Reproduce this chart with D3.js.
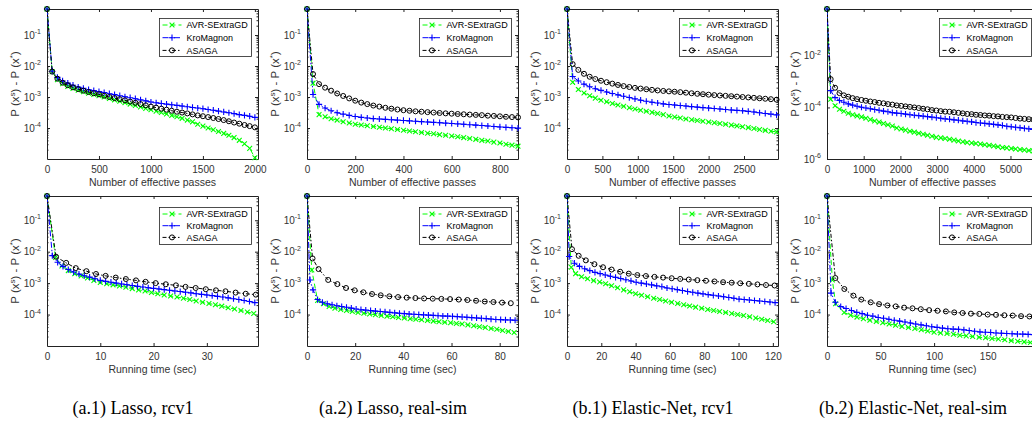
<!DOCTYPE html>
<html lang="en">
<head>
<meta charset="UTF-8">
<title>AVR-SExtraGD vs KroMagnon vs ASAGA</title>
<script src="https://cdn.jsdelivr.net/npm/d3@7"></script>
<style>
  body { margin: 0; background: #fff; }
  svg { display: block; font-family: "Liberation Sans", Arial, Helvetica, sans-serif; }
</style>
</head>
<body>
<svg id="chart" width="1032" height="423"></svg>
<script>
// legend names, captions and axis titles
const methods = ["AVR-SExtraGD", "KroMagnon", "ASAGA"];
const captions = ["(a.1) Lasso, rcv1", "(a.2) Lasso, real-sim", "(b.1) Elastic-Net, rcv1", "(b.2) Elastic-Net, real-sim"];
const xTitles = ["Number of effective passes", "Running time (sec)"];

// x tick labels
const ticksA1p = [0, 500, 1000, 1500, 2000];
const ticksA2p = [0, 200, 400, 600, 800];
const ticksB1p = [0, 500, 1000, 1500, 2000, 2500];
const ticksB2p = [0, 1000, 2000, 3000, 4000, 5000];
const ticksA1t = [0, 10, 20, 30];
const ticksA2t = [0, 20, 40, 60, 80];
const ticksB1t = [0, 20, 40, 60, 80, 100, 120];
const ticksB2t = [0, 50, 100, 150];
// y tick labels (decades)
const yTicksStd = [1e-4, 1e-3, 1e-2, 1e-1];
const yTicksWide = [1e-6, 1e-4, 1e-2];

// ---- (a.1) Lasso, rcv1 : effective passes ----
const passA1 = [0, 50, 100, 150, 200, 250, 300, 350, 400, 450, 500, 550, 600, 650, 700, 750, 800, 850, 900, 950, 1000,
  1050, 1100, 1150, 1200, 1250, 1300, 1350, 1400, 1450, 1500, 1550, 1600, 1650, 1700, 1750, 1800, 1850, 1900, 1950, 2000];
const avrA1p = [0.69, 6.5e-3, 3.6e-3, 2.7e-3, 2.2e-3, 1.9e-3, 1.65e-3, 1.47e-3, 1.32e-3, 1.2e-3, 1.1e-3,
  1.0e-3, 9.0e-4, 8.1e-4, 7.3e-4, 6.6e-4, 5.9e-4, 5.3e-4, 4.8e-4, 4.3e-4, 3.9e-4,
  3.5e-4, 3.15e-4, 2.85e-4, 2.55e-4, 2.3e-4, 2.05e-4, 1.8e-4, 1.58e-4, 1.32e-4, 1.15e-4,
  1.0e-4, 8.8e-5, 7.7e-5, 6.7e-5, 5.8e-5, 4.9e-5, 4.0e-5, 3.1e-5, 2.2e-5, 1.1e-5];
const kroA1p = [0.69, 6.8e-3, 4.3e-3, 3.3e-3, 2.8e-3, 2.4e-3, 2.1e-3, 1.9e-3, 1.72e-3, 1.6e-3, 1.5e-3,
  1.39e-3, 1.28e-3, 1.19e-3, 1.1e-3, 1.02e-3, 9.5e-4, 8.8e-4, 8.1e-4, 7.5e-4, 6.9e-4,
  6.5e-4, 6.2e-4, 5.9e-4, 5.6e-4, 5.35e-4, 5.1e-4, 4.85e-4, 4.6e-4, 4.4e-4, 4.2e-4,
  3.95e-4, 3.75e-4, 3.5e-4, 3.3e-4, 3.1e-4, 2.9e-4, 2.7e-4, 2.55e-4, 2.4e-4, 2.2e-4];
const asagaA1p = [0.69, 6.6e-3, 3.9e-3, 2.9e-3, 2.4e-3, 2.05e-3, 1.8e-3, 1.6e-3, 1.45e-3, 1.32e-3, 1.22e-3,
  1.1e-3, 1.0e-3, 9.2e-4, 8.5e-4, 7.8e-4, 7.1e-4, 6.5e-4, 5.9e-4, 5.4e-4, 4.9e-4,
  4.55e-4, 4.2e-4, 3.9e-4, 3.6e-4, 3.35e-4, 3.15e-4, 2.95e-4, 2.75e-4, 2.55e-4, 2.4e-4,
  2.25e-4, 2.1e-4, 1.95e-4, 1.8e-4, 1.65e-4, 1.5e-4, 1.38e-4, 1.25e-4, 1.15e-4, 1.05e-4];

// ---- (a.1) Lasso, rcv1 : running time ----
const avrA1tX = [0, 1.6, 2.8, 4.0, 5.2, 6.4, 7.6, 8.8, 10.0, 11.2, 12.4, 13.6, 14.8, 16.0, 17.2, 18.4, 19.6,
  20.8, 22.0, 23.2, 24.4, 25.6, 26.8, 28.0, 29.2, 30.4, 31.6, 32.8, 34.0, 35.2, 36.4, 37.6, 38.8];
const avrA1t = [0.59, 6.5e-3, 3.5e-3, 2.5e-3, 2.0e-3, 1.7e-3, 1.45e-3, 1.22e-3, 1.05e-3, 9.6e-4, 8.8e-4, 8.1e-4,
  7.4e-4, 6.7e-4, 6.1e-4, 5.6e-4, 5.0e-4, 4.6e-4, 4.2e-4, 3.9e-4, 3.6e-4, 3.3e-4, 3.0e-4, 2.7e-4, 2.45e-4,
  2.25e-4, 2.05e-4, 1.85e-4, 1.65e-4, 1.5e-4, 1.35e-4, 1.2e-4, 1.08e-4];
const kroA1tX = [0, 1, 2, 3, 4, 5, 6, 7, 8, 9, 10, 11, 12, 13, 14, 15, 16, 17, 18, 19, 20,
  21, 22, 23, 24, 25, 26, 27, 28, 29, 30, 31, 32, 33, 34, 35, 36, 37, 38, 39];
const kroA1t = [0.59, 7.5e-3, 4.6e-3, 3.4e-3, 2.7e-3, 2.25e-3, 1.95e-3, 1.72e-3, 1.55e-3, 1.38e-3, 1.22e-3,
  1.14e-3, 1.07e-3, 1.0e-3, 9.4e-4, 8.9e-4, 8.4e-4, 7.9e-4, 7.5e-4, 7.1e-4, 6.8e-4,
  6.5e-4, 6.2e-4, 5.9e-4, 5.6e-4, 5.4e-4, 5.1e-4, 4.9e-4, 4.6e-4, 4.4e-4, 4.2e-4,
  4.0e-4, 3.8e-4, 3.6e-4, 3.4e-4, 3.2e-4, 3.0e-4, 2.8e-4, 2.6e-4, 2.4e-4];
const asagaA1tX = [0, 1.7, 3.6, 5.4, 7.4, 9.2, 11.0, 12.9, 14.8, 16.7, 18.5, 20.4, 22.3, 24.2, 26.0,
  27.9, 29.8, 31.7, 33.5, 35.4, 37.3, 39.2];
const asagaA1t = [0.59, 6.9e-3, 4.4e-3, 3.0e-3, 2.4e-3, 1.95e-3, 1.7e-3, 1.5e-3, 1.35e-3, 1.22e-3, 1.1e-3,
  1.0e-3, 9.2e-4, 8.5e-4, 7.6e-4, 7.0e-4, 6.4e-4, 5.9e-4, 5.5e-4, 5.0e-4, 4.6e-4, 4.3e-4];

// ---- (a.2) Lasso, real-sim : effective passes ----
const passA2 = [0, 25, 50, 75, 100, 125, 150, 175, 200, 225, 250, 275, 300, 325, 350, 375, 400, 425, 450, 475,
  500, 525, 550, 575, 600, 625, 650, 675, 700, 725, 750, 775, 800, 825, 850, 875];
const avrA2p = [0.69, 2.8e-3, 2.7e-4, 2.3e-4, 2.0e-4, 1.8e-4, 1.6e-4, 1.45e-4, 1.32e-4, 1.25e-4,
  1.18e-4, 1.12e-4, 1.06e-4, 1.0e-4, 9.5e-5, 9.0e-5, 8.5e-5, 8.0e-5, 7.6e-5, 7.2e-5,
  6.8e-5, 6.5e-5, 6.1e-5, 5.8e-5, 5.5e-5, 5.2e-5, 4.9e-5, 4.6e-5, 4.3e-5, 4.0e-5,
  3.8e-5, 3.5e-5, 3.3e-5, 3.0e-5, 2.8e-5, 2.6e-5];
const kroA2p = [0.69, 1.2e-3, 5.8e-4, 4.4e-4, 3.6e-4, 3.1e-4, 2.8e-4, 2.55e-4, 2.35e-4, 2.2e-4,
  2.1e-4, 2.0e-4, 1.95e-4, 1.9e-4, 1.85e-4, 1.8e-4, 1.75e-4, 1.7e-4, 1.65e-4, 1.6e-4,
  1.56e-4, 1.52e-4, 1.48e-4, 1.44e-4, 1.4e-4, 1.36e-4, 1.32e-4, 1.28e-4, 1.24e-4, 1.2e-4,
  1.16e-4, 1.12e-4, 1.08e-4, 1.05e-4, 1.02e-4, 9.9e-5];
const asagaA2p = [0.69, 5.5e-3, 2.6e-3, 2.0e-3, 1.6e-3, 1.3e-3, 1.08e-3, 9.0e-4, 7.6e-4, 6.6e-4,
  5.9e-4, 5.3e-4, 4.9e-4, 4.5e-4, 4.2e-4, 3.95e-4, 3.75e-4, 3.6e-4, 3.45e-4, 3.35e-4,
  3.25e-4, 3.15e-4, 3.05e-4, 2.97e-4, 2.9e-4, 2.83e-4, 2.77e-4, 2.71e-4, 2.65e-4, 2.6e-4,
  2.5e-4, 2.45e-4, 2.38e-4, 2.3e-4, 2.25e-4, 2.2e-4];

// ---- (a.2) Lasso, real-sim : running time ----
const avrA2tX = [0, 2.0, 4.4, 6.8, 9.2, 11.6, 14.0, 16.4, 18.8, 21.2, 23.6, 26.0, 28.4, 30.8, 33.2, 35.6, 38.0,
  40.4, 42.8, 45.2, 47.6, 50.0, 52.4, 54.8, 57.2, 59.6, 62.0, 64.4, 66.8, 69.2, 71.6, 74.0, 76.4, 78.8,
  81.2, 83.6, 86.0];
const avrA2t = [0.59, 2.6e-3, 2.8e-4, 2.2e-4, 1.8e-4, 1.6e-4, 1.45e-4, 1.35e-4, 1.25e-4, 1.17e-4, 1.1e-4,
  1.04e-4, 9.9e-5, 9.4e-5, 8.9e-5, 8.5e-5, 8.1e-5, 7.8e-5, 7.4e-5, 7.1e-5, 6.8e-5, 6.5e-5, 6.2e-5,
  5.9e-5, 5.7e-5, 5.5e-5, 5.2e-5, 5.0e-5, 4.7e-5, 4.4e-5, 4.1e-5, 3.9e-5, 3.6e-5, 3.4e-5, 3.1e-5,
  2.9e-5, 2.7e-5];
const kroA2tX = [0, 1.2, 2.5, 4.4, 6.4, 8.4, 10.4, 12.4, 14.4, 16.4, 18.4, 20.4, 22.4, 24.4, 26.4, 28.4,
  30.4, 32.4, 34.4, 36.4, 38.4, 40.4, 42.4, 44.4, 46.4, 48.4, 50.4, 52.4, 54.4, 56.4, 58.4, 60.4,
  62.4, 64.4, 66.4, 68.4, 70.4, 72.4, 74.4, 76.4, 78.4, 80.4, 82.4, 84.4, 86.4];
const kroA2t = [0.59, 1.26e-3, 6.1e-4, 3.0e-4, 2.45e-4, 2.2e-4, 2.05e-4, 1.9e-4, 1.8e-4, 1.7e-4, 1.6e-4,
  1.5e-4, 1.43e-4, 1.38e-4, 1.33e-4, 1.29e-4, 1.25e-4, 1.21e-4, 1.17e-4, 1.13e-4, 1.1e-4, 1.07e-4,
  1.04e-4, 1.02e-4, 1.0e-4, 9.8e-5, 9.6e-5, 9.4e-5, 9.2e-5, 9.0e-5, 8.9e-5, 8.8e-5, 8.6e-5, 8.4e-5,
  8.2e-5, 8.0e-5, 7.8e-5, 7.6e-5, 7.4e-5, 7.2e-5, 7.0e-5, 6.9e-5, 6.8e-5, 6.7e-5, 6.6e-5];
const asagaA2tX = [0, 2.3, 4.8, 8.8, 12.6, 16.2, 19.8, 23.4, 27.0, 30.6, 34.2, 37.8, 41.4, 45.0, 48.6,
  52.2, 55.8, 59.4, 63.0, 66.6, 70.2, 73.8, 77.4, 81.0, 84.6];
const asagaA2t = [0.59, 6.1e-3, 2.8e-3, 1.26e-3, 9.3e-4, 7.0e-4, 5.9e-4, 5.1e-4, 4.5e-4, 4.1e-4, 3.8e-4,
  3.6e-4, 3.45e-4, 3.35e-4, 3.25e-4, 3.2e-4, 3.15e-4, 3.1e-4, 3.0e-4, 2.9e-4, 2.75e-4, 2.6e-4, 2.5e-4,
  2.4e-4, 2.3e-4];

// ---- (b.1) Elastic-Net, rcv1 : effective passes ----
const passB1 = [0, 80, 160, 240, 320, 400, 480, 560, 640, 720, 800, 880, 960, 1040, 1120, 1200, 1280, 1360,
  1440, 1520, 1600, 1680, 1760, 1840, 1920, 2000, 2080, 2160, 2240, 2320, 2400, 2480, 2560, 2640, 2720,
  2800, 2880, 2960];
const avrB1p = [0.69, 3.0e-3, 1.75e-3, 1.35e-3, 1.1e-3, 9.2e-4, 7.9e-4, 7.0e-4, 6.2e-4, 5.5e-4, 5.0e-4,
  4.5e-4, 4.1e-4, 3.75e-4, 3.45e-4, 3.2e-4, 2.95e-4, 2.7e-4, 2.45e-4, 2.25e-4, 2.1e-4, 1.95e-4, 1.85e-4,
  1.75e-4, 1.65e-4, 1.57e-4, 1.48e-4, 1.4e-4, 1.32e-4, 1.24e-4, 1.17e-4, 1.1e-4, 1.03e-4, 9.6e-5, 9.0e-5,
  8.4e-5, 7.9e-5, 7.5e-5];
const kroB1p = [0.69, 4.6e-3, 3.3e-3, 2.6e-3, 2.15e-3, 1.85e-3, 1.63e-3, 1.45e-3, 1.3e-3, 1.17e-3, 1.06e-3,
  9.6e-4, 8.7e-4, 7.9e-4, 7.3e-4, 6.8e-4, 6.4e-4, 6.0e-4, 5.7e-4, 5.5e-4, 5.3e-4, 5.1e-4, 4.9e-4, 4.7e-4,
  4.55e-4, 4.4e-4, 4.25e-4, 4.1e-4, 3.95e-4, 3.8e-4, 3.7e-4, 3.6e-4, 3.45e-4, 3.3e-4, 3.1e-4, 2.95e-4,
  2.8e-4, 2.65e-4];
const asagaB1p = [0.69, 1.15e-2, 7.5e-3, 5.6e-3, 4.5e-3, 3.8e-3, 3.35e-3, 3.0e-3, 2.7e-3, 2.45e-3, 2.25e-3,
  2.1e-3, 1.97e-3, 1.87e-3, 1.78e-3, 1.7e-3, 1.63e-3, 1.57e-3, 1.52e-3, 1.48e-3, 1.43e-3, 1.38e-3,
  1.32e-3, 1.27e-3, 1.23e-3, 1.19e-3, 1.15e-3, 1.12e-3, 1.09e-3, 1.06e-3, 1.03e-3, 1.0e-3, 9.7e-4,
  9.4e-4, 9.1e-4, 8.8e-4, 8.5e-4, 8.2e-4];

// ---- (b.1) Elastic-Net, rcv1 : running time ----
const avrB1tX = [0, 2.5, 5, 8.5, 12, 15.5, 19, 22.5, 26, 29.5, 33, 36.5, 40, 43.5, 47, 50.5, 54, 57.5, 61,
  64.5, 68, 71.5, 75, 78.5, 82, 85.5, 89, 92.5, 96, 99.5, 103, 106.5, 110, 113.5, 117, 120.5];
const avrB1t = [0.59, 3.2e-3, 2.0e-3, 1.6e-3, 1.38e-3, 1.2e-3, 1.08e-3, 9.5e-4, 8.2e-4, 7.1e-4, 6.1e-4,
  5.3e-4, 4.6e-4, 4.1e-4, 3.7e-4, 3.3e-4, 3.0e-4, 2.7e-4, 2.45e-4, 2.25e-4, 2.05e-4, 1.88e-4, 1.72e-4,
  1.58e-4, 1.45e-4, 1.35e-4, 1.25e-4, 1.16e-4, 1.08e-4, 1.0e-4, 9.3e-5, 8.5e-5, 7.8e-5, 7.1e-5, 6.5e-5,
  5.9e-5];
const kroB1tX = [0, 1.3, 4.3, 7.3, 10.3, 13.3, 16.3, 19.3, 22.3, 25.3, 28.3, 31.3, 34.3, 37.3, 40.3, 43.3,
  46.3, 49.3, 52.3, 55.3, 58.3, 61.3, 64.3, 67.3, 70.3, 73.3, 76.3, 79.3, 82.3, 85.3, 88.3, 91.3, 94.3,
  97.3, 100.3, 103.3, 106.3, 109.3, 112.3, 115.3, 118.3, 121.3];
const kroB1t = [0.59, 7.0e-3, 4.3e-3, 3.4e-3, 2.85e-3, 2.5e-3, 2.2e-3, 2.0e-3, 1.82e-3, 1.66e-3, 1.52e-3,
  1.4e-3, 1.28e-3, 1.17e-3, 1.07e-3, 1.0e-3, 9.4e-4, 8.8e-4, 8.2e-4, 7.7e-4, 7.0e-4, 6.6e-4, 6.2e-4,
  5.8e-4, 5.4e-4, 5.1e-4, 4.8e-4, 4.55e-4, 4.3e-4, 4.1e-4, 3.9e-4, 3.7e-4, 3.5e-4, 3.3e-4, 3.1e-4,
  3.0e-4, 2.9e-4, 2.8e-4, 2.7e-4, 2.6e-4, 2.5e-4, 2.4e-4];
const asagaB1tX = [0, 2.9, 6.8, 11, 16, 21, 26, 31, 36, 41, 46, 51, 56, 61, 66, 71, 76, 81, 86, 91, 96,
  101, 106, 111, 116, 121];
const asagaB1t = [0.59, 1.2e-2, 7.4e-3, 5.3e-3, 4.0e-3, 3.2e-3, 2.7e-3, 2.3e-3, 2.0e-3, 1.8e-3, 1.68e-3,
  1.58e-3, 1.5e-3, 1.43e-3, 1.36e-3, 1.3e-3, 1.24e-3, 1.19e-3, 1.13e-3, 1.07e-3, 1.03e-3, 9.9e-4,
  9.5e-4, 9.1e-4, 8.7e-4, 8.4e-4];

// ---- (b.2) Elastic-Net, real-sim : effective passes ----
const passB2 = [0, 100, 220, 340, 460, 580, 700, 820, 940, 1060, 1180, 1300, 1420, 1540, 1660, 1780, 1900,
  2020, 2140, 2260, 2380, 2500, 2620, 2740, 2860, 2980, 3100, 3220, 3340, 3460, 3580, 3700, 3820, 3940,
  4060, 4180, 4300, 4420, 4540, 4660, 4780, 4900, 5020, 5140, 5260, 5380, 5500, 5620, 5740];
const avrB2p = [0.66, 2.1e-4, 1.17e-4, 8.5e-5, 7.1e-5, 6.0e-5, 5.2e-5, 4.7e-5, 4.3e-5, 3.8e-5, 3.4e-5,
  3.0e-5, 2.7e-5, 2.4e-5, 2.14e-5, 1.9e-5, 1.6e-5, 1.45e-5, 1.32e-5, 1.2e-5, 1.1e-5, 1.0e-5, 9.1e-6,
  8.3e-6, 7.6e-6, 6.9e-6, 6.6e-6, 6.2e-6, 5.8e-6, 5.4e-6, 5.0e-6, 4.7e-6, 4.4e-6, 4.2e-6, 4.0e-6,
  3.8e-6, 3.55e-6, 3.4e-6, 3.2e-6, 3.0e-6, 2.8e-6, 2.7e-6, 2.57e-6, 2.45e-6, 2.35e-6, 2.24e-6,
  2.14e-6, 2.04e-6, 1.95e-6];
const kroB2p = [0.66, 4.5e-4, 2.4e-4, 1.86e-4, 1.6e-4, 1.38e-4, 1.23e-4, 1.12e-4, 1.02e-4, 9.5e-5, 8.9e-5,
  8.3e-5, 7.8e-5, 7.2e-5, 6.8e-5, 6.3e-5, 6.0e-5, 5.8e-5, 5.5e-5, 5.2e-5, 5.0e-5, 4.8e-5, 4.6e-5,
  4.4e-5, 4.2e-5, 4.0e-5, 3.8e-5, 3.6e-5, 3.5e-5, 3.3e-5, 3.2e-5, 3.0e-5, 2.9e-5, 2.75e-5, 2.6e-5,
  2.5e-5, 2.4e-5, 2.3e-5, 2.2e-5, 2.1e-5, 2.0e-5, 1.86e-5, 1.78e-5, 1.7e-5, 1.62e-5, 1.55e-5, 1.48e-5,
  1.41e-5, 1.35e-5];
const asagaB2p = [0.66, 1.26e-3, 5.8e-4, 3.6e-4, 2.95e-4, 2.6e-4, 2.3e-4, 2.1e-4, 1.95e-4, 1.82e-4, 1.7e-4,
  1.62e-4, 1.51e-4, 1.45e-4, 1.35e-4, 1.29e-4, 1.2e-4, 1.15e-4, 1.1e-4, 1.05e-4, 1.0e-4, 9.5e-5, 8.9e-5,
  8.5e-5, 7.9e-5, 7.6e-5, 7.2e-5, 6.9e-5, 6.8e-5, 6.5e-5, 6.2e-5, 5.9e-5, 5.6e-5, 5.5e-5, 5.2e-5,
  5.1e-5, 4.9e-5, 4.8e-5, 4.6e-5, 4.5e-5, 4.3e-5, 4.2e-5, 4.1e-5, 3.9e-5, 3.7e-5, 3.6e-5, 3.5e-5,
  3.4e-5, 3.2e-5];

// ---- (b.2) Elastic-Net, real-sim : running time ----
const avrB2tX = [0, 5, 8, 16, 22, 28, 34, 40, 46, 52, 58, 64, 70, 76, 82, 88, 94, 100, 106, 112, 118, 124,
  130, 136, 142, 148, 154, 160, 166, 172, 178, 184, 190, 196];
const avrB2t = [0.59, 1.26e-3, 2.2e-4, 1.17e-4, 9.5e-5, 8.3e-5, 7.4e-5, 6.6e-5, 6.0e-5, 5.5e-5, 5.0e-5,
  4.6e-5, 4.2e-5, 3.9e-5, 3.6e-5, 3.3e-5, 3.0e-5, 2.75e-5, 2.6e-5, 2.5e-5, 2.35e-5, 2.2e-5, 2.1e-5,
  2.0e-5, 1.9e-5, 1.82e-5, 1.74e-5, 1.66e-5, 1.58e-5, 1.48e-5, 1.41e-5, 1.35e-5, 1.29e-5, 1.26e-5];
const kroB2tX = [0, 3.8, 7.8, 12.8, 17.8, 22.8, 27.8, 32.8, 37.8, 42.8, 47.8, 52.8, 57.8, 62.8, 67.8, 72.8,
  77.8, 82.8, 87.8, 92.8, 97.8, 102.8, 107.8, 112.8, 117.8, 122.8, 127.8, 132.8, 137.8, 142.8, 147.8,
  152.8, 157.8, 162.8, 167.8, 172.8, 177.8, 182.8, 187.8, 192.8];
const kroB2t = [0.59, 4.8e-4, 2.45e-4, 1.8e-4, 1.55e-4, 1.35e-4, 1.17e-4, 1.07e-4, 9.5e-5, 8.9e-5, 8.1e-5,
  7.6e-5, 7.1e-5, 6.6e-5, 6.2e-5, 5.8e-5, 5.4e-5, 5.0e-5, 4.7e-5, 4.4e-5, 4.1e-5, 3.9e-5, 3.7e-5,
  3.55e-5, 3.45e-5, 3.4e-5, 3.25e-5, 3.1e-5, 2.95e-5, 2.8e-5, 2.75e-5, 2.7e-5, 2.6e-5, 2.55e-5, 2.5e-5,
  2.45e-5, 2.4e-5, 2.38e-5, 2.35e-5, 2.3e-5];
const asagaB2tX = [0, 7.8, 16.2, 24.6, 32, 40.8, 48.6, 56.4, 64.2, 72, 79.8, 87.6, 95.4, 103.2, 111, 118.8,
  126.6, 134.4, 142.2, 150, 157.8, 165.6, 173.4, 181.2, 189, 196];
const asagaB2t = [0.59, 1.45e-3, 6.5e-4, 4.0e-4, 3.0e-4, 2.45e-4, 2.15e-4, 1.95e-4, 1.82e-4, 1.66e-4,
  1.58e-4, 1.48e-4, 1.38e-4, 1.32e-4, 1.26e-4, 1.17e-4, 1.12e-4, 1.07e-4, 1.05e-4, 1.0e-4, 9.8e-5,
  9.5e-5, 9.3e-5, 8.9e-5, 8.7e-5, 8.5e-5];

// ---- panel setup ----
const panels = [
  {col: 0, row: 0, xmax: 2030, xTicks: ticksA1p, yMin: 1e-5, yMax: 0.69, yTicks: yTicksStd,
    series: [[passA1, avrA1p], [passA1, kroA1p], [passA1, asagaA1p]]},
  {col: 1, row: 0, xmax: 875, xTicks: ticksA2p, yMin: 1e-5, yMax: 0.69, yTicks: yTicksStd,
    series: [[passA2, avrA2p], [passA2, kroA2p], [passA2, asagaA2p]]},
  {col: 2, row: 0, xmax: 2980, xTicks: ticksB1p, yMin: 1e-5, yMax: 0.69, yTicks: yTicksStd,
    series: [[passB1, avrB1p], [passB1, kroB1p], [passB1, asagaB1p]]},
  {col: 3, row: 0, xmax: 5750, xTicks: ticksB2p, yMin: 1e-6, yMax: 0.66, yTicks: yTicksWide,
    series: [[passB2, avrB2p], [passB2, kroB2p], [passB2, asagaB2p]]},
  {col: 0, row: 1, xmax: 39.6, xTicks: ticksA1t, yMin: 1e-5, yMax: 0.59, yTicks: yTicksStd,
    series: [[avrA1tX, avrA1t], [kroA1tX, kroA1t], [asagaA1tX, asagaA1t]]},
  {col: 1, row: 1, xmax: 87.6, xTicks: ticksA2t, yMin: 1e-5, yMax: 0.59, yTicks: yTicksStd,
    series: [[avrA2tX, avrA2t], [kroA2tX, kroA2t], [asagaA2tX, asagaA2t]]},
  {col: 2, row: 1, xmax: 123, xTicks: ticksB1t, yMin: 1e-5, yMax: 0.59, yTicks: yTicksStd,
    series: [[avrB1tX, avrB1t], [kroB1tX, kroB1t], [asagaB1tX, asagaB1t]]},
  {col: 3, row: 1, xmax: 197, xTicks: ticksB2t, yMin: 1e-5, yMax: 0.59, yTicks: yTicksStd,
    series: [[avrB2tX, avrB2t], [kroB2tX, kroB2t], [asagaB2tX, asagaB2t]]}
];

const styles = [
  {color: "#00ff00", dash: "5,3", marker: "x"},
  {color: "#0000ff", dash: "6,2,1.5,2", marker: "+"},
  {color: "#000000", dash: "4,2,1.5,2", marker: "o"}
];

const colX = [0, 260, 520, 780];
const rowTop = [9, 196];
const axW = 211, axH = 150;
const ink = "#333333";

const svg = d3.select("#chart");

function marker(g, type, cx, cy, color) {
  if (type === "x") {
    const s = 2.4;
    g.append("path")
      .attr("d", `M${cx - s},${cy - s}L${cx + s},${cy + s}M${cx - s},${cy + s}L${cx + s},${cy - s}`)
      .attr("stroke", color).attr("stroke-width", 1.1).attr("fill", "none");
  } else if (type === "+") {
    const s = 3.1;
    g.append("path")
      .attr("d", `M${cx - s},${cy}H${cx + s}M${cx},${cy - s}V${cy + s}`)
      .attr("stroke", color).attr("stroke-width", 1.1).attr("fill", "none");
  } else {
    g.append("circle").attr("cx", cx).attr("cy", cy).attr("r", 2.5)
      .attr("stroke", color).attr("stroke-width", 1).attr("fill", "none");
  }
}

// minor ticks for log axes
function minorTicks(p) {
  const out = [];
  if (p.yTicks.length === 3) {
    [1e-5, 1e-3, 1e-1].forEach(v => { if (v > p.yMin && v < p.yMax) out.push(v); });
    return out;
  }
  for (let e = -6; e <= 0; e++) {
    for (let k = 2; k <= 9; k++) {
      const v = k * Math.pow(10, e);
      if (v > p.yMin && v < p.yMax) out.push(v);
    }
  }
  return out;
}

panels.forEach((p, i) => {
  const L = colX[p.col] + 47, T = rowTop[p.row];
  const R = L + axW, B = T + axH;
  const x = d3.scaleLinear().domain([0, p.xmax]).range([L, R]);
  const y = d3.scaleLog().domain([p.yMin, p.yMax]).range([B, T]);
  const g = svg.append("g");

  g.append("clipPath").attr("id", "clip" + i)
    .append("rect").attr("x", L).attr("y", T).attr("width", axW + 1).attr("height", axH + 1);

  // axes (inward ticks, box on)
  const styleAxis = sel => {
    sel.selectAll(".domain").attr("stroke", "#222");
    sel.selectAll(".tick line").attr("stroke", "#222");
    sel.selectAll("text").attr("fill", ink).attr("font-size", 10)
      .attr("font-family", "'Liberation Sans', Arial, sans-serif");
  };
  g.append("g").attr("transform", `translate(0,${B})`)
    .call(d3.axisBottom(x).tickValues(p.xTicks).tickSizeInner(-3).tickSizeOuter(0).tickPadding(7)
      .tickFormat(d3.format("d")))
    .call(styleAxis);
  g.append("g").attr("transform", `translate(0,${T})`)
    .call(d3.axisTop(x).tickValues(p.xTicks).tickSizeInner(-3).tickSizeOuter(0).tickFormat(""))
    .call(styleAxis);
  g.append("g").attr("transform", `translate(${L},0)`)
    .call(d3.axisLeft(y).tickValues(p.yTicks).tickSizeInner(-3).tickSizeOuter(0).tickFormat(""))
    .call(styleAxis);
  g.append("g").attr("transform", `translate(${R},0)`)
    .call(d3.axisRight(y).tickValues(p.yTicks).tickSizeInner(-3).tickSizeOuter(0).tickFormat(""))
    .call(styleAxis);
  const mt = minorTicks(p);
  g.append("g").attr("transform", `translate(${L},0)`)
    .call(d3.axisLeft(y).tickValues(mt).tickSizeInner(-1.5).tickSizeOuter(0).tickFormat(""))
    .call(s => s.select(".domain").remove()).call(styleAxis);
  g.append("g").attr("transform", `translate(${R},0)`)
    .call(d3.axisRight(y).tickValues(mt).tickSizeInner(-1.5).tickSizeOuter(0).tickFormat(""))
    .call(s => s.select(".domain").remove()).call(styleAxis);

  // y tick labels 10^k
  p.yTicks.forEach(v => {
    const t = g.append("text")
      .attr("x", L - 6).attr("y", y(v) + 3.5)
      .attr("text-anchor", "end").attr("font-size", 10).attr("fill", ink);
    t.append("tspan").text("10");
    t.append("tspan").attr("dy", -4.5).attr("font-size", 7).text(Math.round(Math.log10(v)));
  });

  // curves
  p.series.forEach((s, k) => {
    const st = styles[k];
    const pts = s[0].map((xv, j) => [xv, s[1][j]]);
    g.append("path")
      .attr("clip-path", `url(#clip${i})`)
      .attr("d", d3.line().x(d => x(d[0])).y(d => y(d[1]))(pts))
      .attr("fill", "none").attr("stroke", st.color).attr("stroke-width", 1)
      .attr("stroke-dasharray", st.dash);
    const mg = g.append("g");
    pts.filter(d => d[0] <= p.xmax && d[1] >= p.yMin && d[1] <= p.yMax)
      .forEach(d => marker(mg, st.marker, x(d[0]), y(d[1]), st.color));
  });

  // legend
  const lx = L + 112.5, ly = T + (p.row === 0 ? 9.5 : 11.5);
  const lh = p.row === 0 ? 38 : 37, gap = p.row === 0 ? 12.7 : 11.7;
  g.append("rect").attr("x", lx).attr("y", ly).attr("width", 92).attr("height", lh)
    .attr("fill", "#fff").attr("stroke", "#222").attr("stroke-width", 0.8);
  methods.forEach((m, k) => {
    const st = styles[k];
    const yy = ly + 6.5 + k * gap;
    g.append("line").attr("x1", lx + 3).attr("x2", lx + 22).attr("y1", yy).attr("y2", yy)
      .attr("stroke", st.color).attr("stroke-width", 1).attr("stroke-dasharray", st.dash);
    marker(g, st.marker, lx + 12.5, yy, st.color);
    g.append("text").attr("x", lx + 27).attr("y", yy + 3.1)
      .attr("font-size", 9).attr("fill", "#000").text(m);
  });

  // axis titles
  g.append("text").attr("x", L + axW / 2).attr("y", B + 27)
    .attr("text-anchor", "middle").attr("font-size", 10.5).attr("fill", ink)
    .text(xTitles[p.row]);
  const yl = g.append("text")
    .attr("transform", `translate(${colX[p.col] + 19},${T + axH / 2}) rotate(-90)`)
    .attr("text-anchor", "middle").attr("font-size", 11.5).attr("fill", ink);
  yl.append("tspan").text("P (x");
  yl.append("tspan").attr("dy", -4.5).attr("font-size", 8).text("s");
  yl.append("tspan").attr("dy", 4.5).text(") - P (x");
  yl.append("tspan").attr("dy", -4.5).attr("font-size", 8).text("*");
  yl.append("tspan").attr("dy", 4.5).text(")");

  if (p.row === 1) {
    svg.append("text").attr("x", colX[p.col] + 133).attr("y", 414)
      .attr("text-anchor", "middle").attr("font-size", 18).attr("fill", "#000")
      .attr("font-family", "'Liberation Serif', 'Times New Roman', serif")
      .text(captions[p.col]);
  }
});
</script>
</body>
</html>
